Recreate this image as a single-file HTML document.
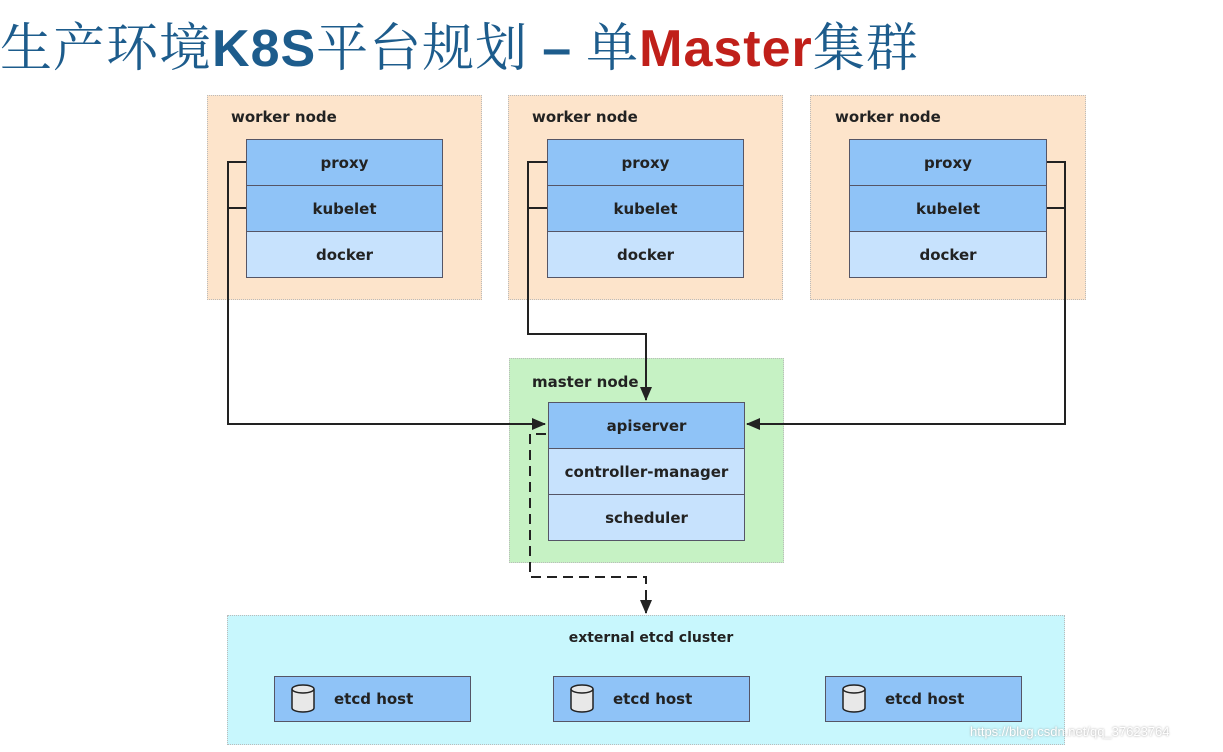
<!DOCTYPE html>
<html><head><meta charset="utf-8"><style>
body{margin:0;width:1223px;height:752px;background:#fff;position:relative;overflow:hidden;font-family:"DejaVu Sans","Liberation Sans",sans-serif}
.t{position:absolute;left:0;top:17px;font-size:52px;line-height:64px;color:#1d5c8c;font-family:"Liberation Serif","Noto Serif CJK SC",serif;white-space:nowrap;letter-spacing:1px}
.t b{font-family:"Liberation Sans",sans-serif}
.n{position:absolute;border:1px dotted #bbb;box-sizing:border-box}
.w{background:#fde4cb}
.lbl{position:absolute;font-size:15px;font-weight:bold;color:#222}
.r{position:absolute;box-sizing:border-box;border:1.5px solid #556;display:flex;align-items:center;justify-content:center;font-size:15px;font-weight:bold;color:#222}
.d{background:#8fc3f7}.l{background:#c7e2fd}
.e{justify-content:flex-start;padding-left:59px}
</style></head><body>
<div class="t">生产环境<b>K8S</b>平台规划 <b>–</b> 单<b style="color:#c0201a">Master</b>集群</div>

<div class="n w" style="left:207px;top:95px;width:275px;height:205px"></div>
<div class="n w" style="left:508px;top:95px;width:275px;height:205px"></div>
<div class="n w" style="left:810px;top:95px;width:276px;height:205px"></div>
<div class="lbl" style="left:231px;top:108px">worker node</div>
<div class="lbl" style="left:532px;top:108px">worker node</div>
<div class="lbl" style="left:835px;top:108px">worker node</div>

<div class="r d" style="left:246px;top:139px;width:197px;height:47px">proxy</div>
<div class="r d" style="left:246px;top:185px;width:197px;height:47px">kubelet</div>
<div class="r l" style="left:246px;top:231px;width:197px;height:47px">docker</div>
<div class="r d" style="left:547px;top:139px;width:197px;height:47px">proxy</div>
<div class="r d" style="left:547px;top:185px;width:197px;height:47px">kubelet</div>
<div class="r l" style="left:547px;top:231px;width:197px;height:47px">docker</div>
<div class="r d" style="left:849px;top:139px;width:198px;height:47px">proxy</div>
<div class="r d" style="left:849px;top:185px;width:198px;height:47px">kubelet</div>
<div class="r l" style="left:849px;top:231px;width:198px;height:47px">docker</div>

<div class="n" style="left:509px;top:358px;width:275px;height:205px;background:#c6f2c4"></div>
<div class="lbl" style="left:532px;top:373px">master node</div>
<div class="r d" style="left:548px;top:402px;width:197px;height:47px">apiserver</div>
<div class="r l" style="left:548px;top:448px;width:197px;height:47px">controller-manager</div>
<div class="r l" style="left:548px;top:494px;width:197px;height:47px">scheduler</div>

<div class="n" style="left:227px;top:615px;width:838px;height:130px;background:#c8f7fd"></div>
<div class="lbl" style="left:0;width:1302px;text-align:center;top:630px;font-size:14px">external etcd cluster</div>
<div class="r d e" style="left:274px;top:676px;width:197px;height:46px;border-width:1px">etcd host</div>
<div class="r d e" style="left:553px;top:676px;width:197px;height:46px;border-width:1px">etcd host</div>
<div class="r d e" style="left:825px;top:676px;width:197px;height:46px;border-width:1px">etcd host</div>
<div style="position:absolute;left:970px;top:724px;font-size:13px;color:#fff;font-family:'Liberation Sans',sans-serif;text-shadow:0 0 2px #999">https://blog.csdn.net/qq_37623764</div>

<svg width="1223" height="752" style="position:absolute;left:0;top:0">
<defs><marker id="a" markerWidth="14" markerHeight="12" refX="13" refY="6" orient="auto" markerUnits="userSpaceOnUse"><path d="M0,0 L14,6 L0,12 z" fill="#222"/></marker></defs>
<g stroke="#222" stroke-width="2" fill="none">
<path d="M246,162 H228 V424 H545" marker-end="url(#a)"/>
<path d="M246,208 H228"/>
<path d="M547,162 H528 V334 H646 V400" marker-end="url(#a)"/>
<path d="M547,208 H528"/>
<path d="M1047,162 H1065 V424 H747" marker-end="url(#a)"/>
<path d="M1047,208 H1065"/>
<path d="M546,434 H530 V577 H646 V613" stroke-dasharray="10,6" marker-end="url(#a)"/>
</g>
<g fill="#e8e8e8" stroke="#222" stroke-width="1.5">
<path d="M292,689 v19 a11,4 0 0 0 22,0 v-19"/><ellipse cx="303" cy="689" rx="11" ry="4"/>
<path d="M571,689 v19 a11,4 0 0 0 22,0 v-19"/><ellipse cx="582" cy="689" rx="11" ry="4"/>
<path d="M843,689 v19 a11,4 0 0 0 22,0 v-19"/><ellipse cx="854" cy="689" rx="11" ry="4"/>
</g>
</svg>
</body></html>
